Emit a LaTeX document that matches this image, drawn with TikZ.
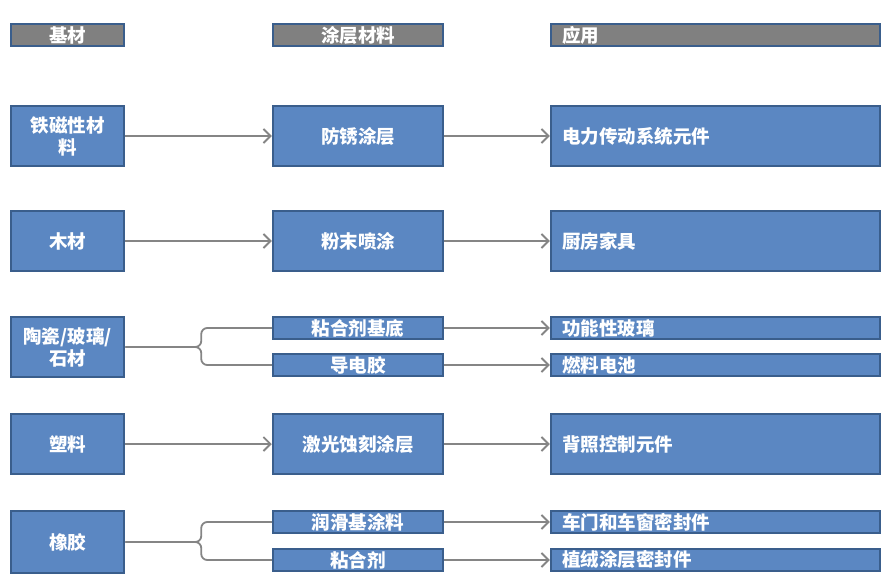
\documentclass[tikz,border=0pt]{standalone}
\usepackage{fontspec}
\newfontfamily\cjk{Noto Sans CJK SC}
\usetikzlibrary{arrows.meta,positioning}
\definecolor{boxblue}{HTML}{5B87C2}
\definecolor{edgeblue}{HTML}{3A5E8C}
\definecolor{headgray}{HTML}{808080}
\definecolor{linegray}{HTML}{858585}
\tikzset{
  cell/.style={rectangle,draw=edgeblue,line width=2.5pt,fill=boxblue,text=white,font=\cjk\bfseries\fontsize{18.5}{22}\selectfont,align=center,inner xsep=4pt,inner ysep=0pt},
  header/.style={cell,fill=headgray,minimum height=22pt},
  colA/.style={minimum width=113pt},
  colB/.style={minimum width=170pt},
  colC/.style={text width=307pt,inner xsep=11pt,align=left},
  tall/.style={minimum height=60pt},
  thin/.style={minimum height=22pt},
  arrow/.style={-{Straight Barb[length=7pt,width=14pt]},line width=1.8pt,linegray},
  branch/.style={line width=1.8pt,linegray,rounded corners=6pt}
}
\begin{document}
\begin{tikzpicture}[x=1pt,y=-1pt]
  \useasboundingbox (0,0) rectangle (891,586);
  \node[header,colA] (hbase) at (67.5,35) {基材};
  \node[header,colB] (hcoat) at (358,35) {涂层材料};
  \node[header,colC] (happ) at (715.5,35) {应用};

  \node[cell,colA,tall] (iron) at (67.5,136) {铁磁性材\\料};
  \node[cell,colB,tall] (rust) at (358,136) {防锈涂层};
  \node[cell,colC,tall] (motor) at (715.5,136) {电力传动系统元件};

  \node[cell,colA,tall] (wood) at (67.5,241) {木材};
  \node[cell,colB,tall] (powder) at (358,241) {粉末喷涂};
  \node[cell,colC,tall] (kitchen) at (715.5,241) {厨房家具};

  \node[cell,colA,tall] (ceramic) at (67.5,347) {陶瓷/玻璃/\\石材};
  \node[cell,colB,thin] (primer) at (358,328) {粘合剂基底};
  \node[cell,colB,thin] (conduct) at (358,365) {导电胶};
  \node[cell,colC,thin] (glass) at (715.5,328) {功能性玻璃};
  \node[cell,colC,thin] (fuel) at (715.5,365) {燃料电池};

  \node[cell,colA,tall] (plastic) at (67.5,444) {塑料};
  \node[cell,colB,tall] (laser) at (358,444) {激光蚀刻涂层};
  \node[cell,colC,tall] (backlit) at (715.5,444) {背照控制元件};

  \node[cell,colA,minimum height=62pt] (rubber) at (67.5,542) {橡胶};
  \node[cell,colB,thin] (lube) at (358,522) {润滑基涂料};
  \node[cell,colB,thin] (glue) at (358,560) {粘合剂};
  \node[cell,colC,thin] (door) at (715.5,522) {车门和车窗密封件};
  \node[cell,colC,thin] (flock) at (715.5,560) {植绒涂层密封件};

  \draw[arrow] (iron) -- (rust);
  \draw[arrow] (rust) -- (motor);
  \draw[arrow] (wood) -- (powder);
  \draw[arrow] (powder) -- (kitchen);
  \draw[branch] (ceramic.east) -- ++(76,0) |- (primer.west);
  \draw[branch] (ceramic.east) -- ++(76,0) |- (conduct.west);
  \draw[arrow] (primer) -- (glass);
  \draw[arrow] (conduct) -- (fuel);
  \draw[arrow] (plastic) -- (laser);
  \draw[arrow] (laser) -- (backlit);
  \draw[branch] (rubber.east) -- ++(76,0) |- (lube.west);
  \draw[branch] (rubber.east) -- ++(76,0) |- (glue.west);
  \draw[arrow] (lube) -- (door);
  \draw[arrow] (glue) -- (flock);
\end{tikzpicture}
\end{document}
